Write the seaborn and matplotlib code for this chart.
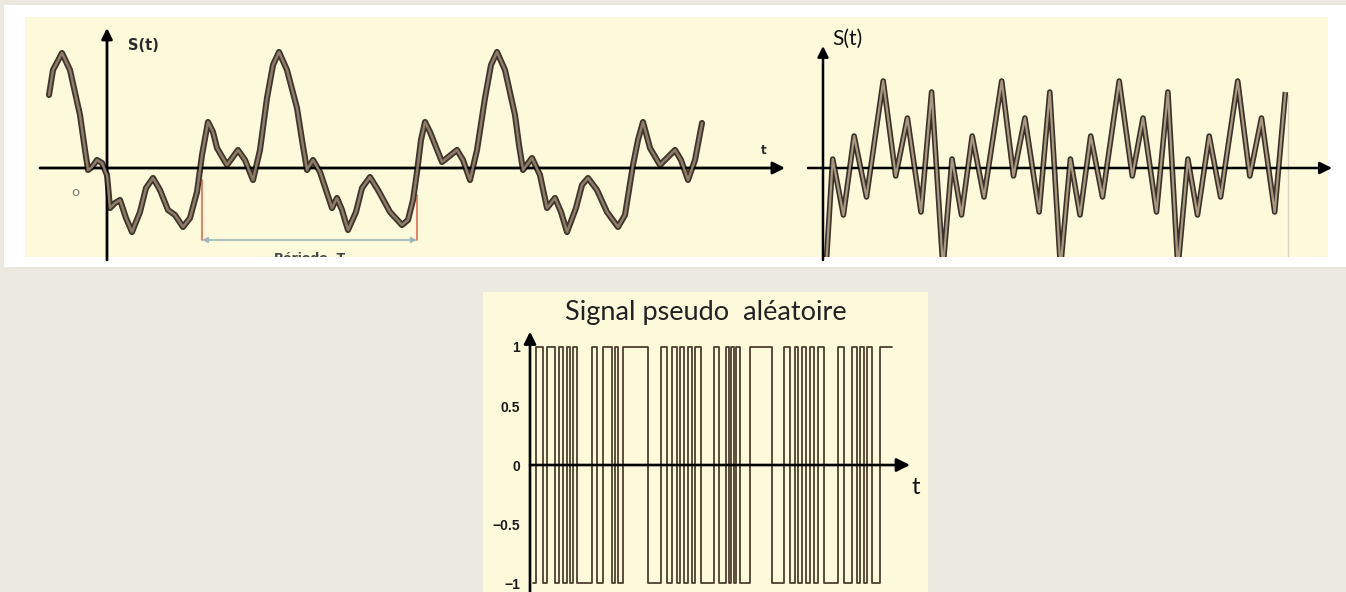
import numpy as np
import pandas as pd
import matplotlib
matplotlib.use("Agg")
import matplotlib.pyplot as plt
from matplotlib.patches import Rectangle
import seaborn as sns

sns.set_style("white")
plt.rcParams['font.family'] = ['Lato', 'DejaVu Sans']

# ---------------- data ----------------
# Panel 1: periodic signal S(t) (t, S; origin at axes crossing)
p1_t = [-58, -54, -45, -37, -27, -22, -19, -15, -10, -5, 0, 3, 8, 13, 19, 25, 33, 39, 46, 53,
        61, 68, 76, 83, 90, 95, 101, 106, 110, 120, 131, 138, 146, 153, 160, 166, 172, 180,
        190, 195, 200, 206, 213, 225, 230, 235, 241, 249, 255, 263, 271, 283, 295, 301, 306,
        310, 314, 318, 323, 335, 350, 356, 363, 370, 378, 384, 390, 398, 408, 412, 416, 425,
        433, 440, 448, 454, 460, 469, 475, 481, 490, 500, 511, 518, 526, 531, 536, 543, 553,
        568, 574, 581, 588, 595]
p1_s = [73, 98, 115, 98, 53, 18, -2, 1, 8, 5, -7, -40, -35, -32, -50, -64, -44, -20, -10, -22,
        -42, -47, -59, -50, -24, 13, 46, 36, 20, 3, 18, 8, -12, 18, 70, 103, 116, 98,
        60, 28, -2, 8, -4, -40, -30, -42, -62, -44, -20, -9, -22, -44, -57, -52, -32,
        -4, 28, 46, 36, 6, 18, 8, -12, 18, 70, 103, 116, 98, 53, 23, -2, 10,
        -7, -40, -30, -44, -64, -40, -17, -10, -22, -44, -59, -47, 3, 28, 46, 20, 3,
        18, 8, -12, 8, 45]
period_start, period_end = 95, 310

# Panel 2: multi-frequency periodic signal (extrema)
p2_t = [3, 9.7, 20.4, 31.1, 43.5, 60.2, 72.7, 84.4, 98.0, 108.6,
        120.0, 129.0, 138.5, 149.2, 161.0, 178.7, 190.5, 201.9, 216.1, 226.8,
        237.5, 247.4, 257.0, 267.7, 279.5, 296.2, 309.3, 320.0, 333.5, 344.9,
        354.9, 364.9, 374.5, 386.2, 397.6, 414.7, 426.8, 438.5, 451.7, 462.4]
p2_s = [-100, 9, -47, 32, -29, 87, -8, 50, -44, 76,
        -100, 9, -47, 32, -29, 87, -8, 50, -44, 76,
        -100, 9, -47, 32, -29, 87, -8, 50, -44, 76,
        -100, 9, -47, 32, -29, 87, -8, 50, -44, 76]

# Panel 3: pseudo-random binary signal (switch times, level alternates starting low)
prbs_t = [0.9, 1.8, 3.9, 5.1, 7.5, 8.7, 9.9, 11.1, 12.0, 12.9, 14.1,
          18.6, 20.1, 21.9, 24.6, 25.5, 26.4, 27.9, 35.4,
          39.3, 41.1, 42.6, 44.1, 45.0, 46.2, 47.4, 48.6, 49.5, 51.3,
          55.2, 56.7, 58.8, 59.7, 60.3, 61.2, 61.8, 63.0, 66.0, 72.6,
          76.2, 78.0, 79.5, 80.4, 81.6, 82.8, 84.0, 85.2, 86.4, 88.2,
          92.4, 94.2, 96.6, 98.1, 99.0, 100.2, 101.1, 102.6, 105.0, 108.6]
prbs_v = [-1 if i % 2 == 0 else 1 for i in range(len(prbs_t) - 1)] + [1]
ytick_vals = [-1, -0.5, 0, 0.5, 1]
ytick_labels = ["\u22121", "\u22120.5", "0", "0.5", "1"]

# ---------------- figure ----------------
W, H = 1346, 592
fig = plt.figure(figsize=(W / 100, H / 100), dpi=100, facecolor="#ece9e0")

def frac(x0, y0, x1, y1):
    return [x0 / W, 1 - y1 / H, (x1 - x0) / W, (y1 - y0) / H]

fig.patches.append(Rectangle((4 / W, 1 - 267 / H), (W - 4) / W, 262 / H,
                             transform=fig.transFigure, facecolor="white",
                             edgecolor="none", zorder=-3))
fig.patches.append(Rectangle((25 / W, 1 - 257 / H), (1328 - 25) / W, 240 / H,
                             transform=fig.transFigure, facecolor="#fdf9db",
                             edgecolor="none", zorder=-2))

def bare(ax):
    for sp in ax.spines.values():
        sp.set_visible(False)
    ax.set_xticks([])
    ax.set_yticks([])
    ax.set_xlabel("")
    ax.set_ylabel("")

def arrow(ax, x0, y0, x1, y1, lw=2.0, ms=16, color="black"):
    ax.annotate("", xy=(x1, y1), xytext=(x0, y0), annotation_clip=False,
                arrowprops=dict(arrowstyle="-|>", lw=lw, color=color,
                                mutation_scale=ms, shrinkA=0, shrinkB=0))

# ---- panel 1 ----
ax1 = fig.add_axes(frac(25, 17, 790, 257))
ax1.set_facecolor("none")
ax1.set_xlim(-82, 683)
ax1.set_ylim(-89, 151)
df1 = pd.DataFrame({"t": p1_t, "s": p1_s})
sns.lineplot(data=df1, x="t", y="s", ax=ax1, sort=False, estimator=None,
             color="#3f352b", lw=4.4, solid_joinstyle="round", solid_capstyle="round", zorder=3)
sns.lineplot(data=df1, x="t", y="s", ax=ax1, sort=False, estimator=None,
             color="#8d7d68", lw=1.8, solid_joinstyle="round", solid_capstyle="round", zorder=4)
bare(ax1)
arrow(ax1, -67, 0, 678, 0, lw=2.0, ms=18)
arrow(ax1, 0, -92, 0, 140, lw=2.0, ms=16)
ax1.text(21, 123, "S(t)", fontsize=10.5, fontweight="bold", color="#2a2a2a",
         family=["DejaVu Sans"], va="center", ha="left")
ax1.text(657, 18, "t", fontsize=8.5, fontweight="bold", color="#2a2a2a",
         family=["DejaVu Sans"], va="center", ha="center")
ax1.text(-32, -25, "o", fontsize=9.5, color="#777777", va="center", ha="center",
         family=["DejaVu Sans"])
ax1.plot([period_start, period_start], [-12, -72], color="#e8735a", lw=1.3, zorder=2)
ax1.plot([period_end, period_end], [-27, -72], color="#e8735a", lw=1.3, zorder=2)
ax1.annotate("", xy=(period_end, -72), xytext=(period_start, -72),
             arrowprops=dict(arrowstyle="<|-|>", lw=1.2, color="#9fb7bd",
                             mutation_scale=8, shrinkA=0, shrinkB=0))
ax1.text((period_start + period_end) / 2, -84, "Période  T", fontsize=9,
         fontweight="bold", color="#444444", ha="center", va="top", clip_on=True,
         family=["DejaVu Sans"])

# ---- panel 2 ----
ax2 = fig.add_axes(frac(790, 17, 1328, 257))
ax2.set_facecolor("none")
ax2.set_xlim(-33, 505)
ax2.set_ylim(-89, 151)
df2 = pd.DataFrame({"t": p2_t, "s": p2_s})
sns.lineplot(data=df2, x="t", y="s", ax=ax2, sort=False, estimator=None,
             color="#3a3128", lw=4.0, solid_joinstyle="round", solid_capstyle="butt", zorder=3)
sns.lineplot(data=df2, x="t", y="s", ax=ax2, sort=False, estimator=None,
             color="#a8987f", lw=1.6, solid_joinstyle="round", solid_capstyle="butt", zorder=4)
bare(ax2)
ax2.plot([465, 465], [-89, 73], color="#d9d4c0", lw=1.0, zorder=1)
arrow(ax2, -15, 0, 509, 0, lw=1.8, ms=18)
arrow(ax2, 0, -92, 0, 122, lw=1.8, ms=16)
ax2.text(9, 129, "S(t)", fontsize=15, color="#111111", va="center", ha="left")

# ---- panel 3 ----
ax3 = fig.add_axes(frac(483, 292, 928, 592))
ax3.set_facecolor("#fdf9db")
ax3.set_xlim(-14.1, 119.4)
ax3.set_ylim(-1.076, 1.466)
df3 = pd.DataFrame({"t": prbs_t, "v": prbs_v})
sns.lineplot(data=df3, x="t", y="v", ax=ax3, sort=False, estimator=None,
             drawstyle="steps-post", color="#4d3f30", lw=1.3, zorder=3)
for name, sp in ax3.spines.items():
    sp.set_visible(False)
ax3.spines["left"].set_position(("data", 0))
ax3.set_xticks([])
ax3.set_yticks(ytick_vals)
ax3.set_yticklabels(ytick_labels)
ax3.tick_params(axis="y", length=0, pad=7, labelsize=10, labelcolor="#1a1a1a")
for lab in ax3.get_yticklabels():
    lab.set_fontweight("bold")
    lab.set_family(["Liberation Sans", "DejaVu Sans"])
ax3.set_xlabel("")
ax3.set_ylabel("")
arrow(ax3, 0, 0, 114, 0, lw=1.9, ms=20)
arrow(ax3, 0, -1.076, 0, 1.13, lw=1.9, ms=18)
ax3.text(115.8, -0.19, "t", fontsize=17, color="#111111", ha="center", va="center")
ax3.text(0.501, 0.933, "Signal pseudo  aléatoire", transform=ax3.transAxes,
         fontsize=19.5, color="#222222", ha="center", va="center")

fig.savefig("out.png", dpi=100, facecolor=fig.get_facecolor())
